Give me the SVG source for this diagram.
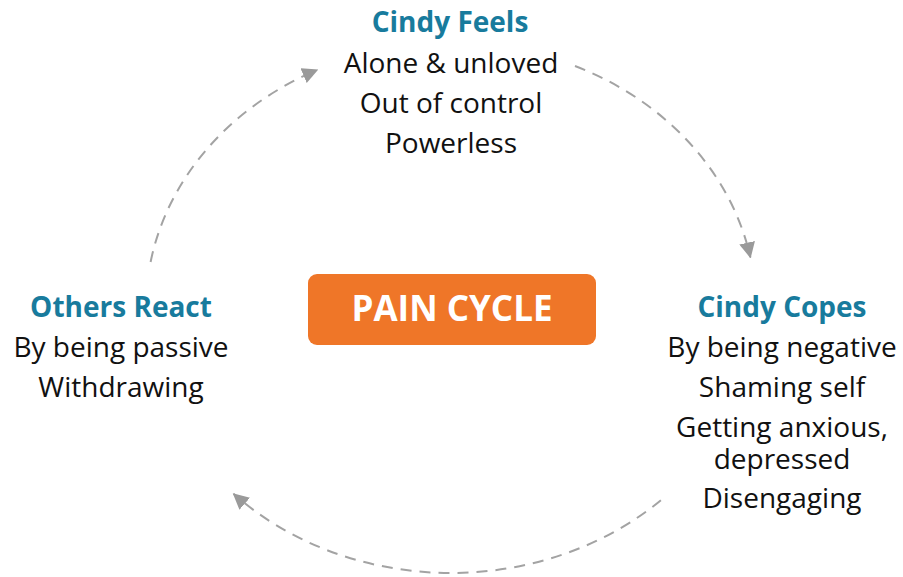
<svg xmlns="http://www.w3.org/2000/svg" width="903" height="577" viewBox="0 0 903 577">
<style>
.h{font-family:"Open Sans","Noto Sans","Liberation Sans",sans-serif;font-weight:700;font-size:28px;fill:#187b9d;text-anchor:middle}
.t{font-family:"Open Sans","Noto Sans","Liberation Sans",sans-serif;font-size:28px;fill:#111;text-anchor:middle}
.c{fill:none;stroke:#a3a3a3;stroke-width:2;stroke-dasharray:11 8;marker-end:url(#ah)}
</style>
<defs>
<marker id="ah" viewBox="0 0 16 16" refX="15" refY="8" markerWidth="16" markerHeight="16" markerUnits="userSpaceOnUse" orient="auto">
<path d="M0,0 L16,8 L0,16 Z" fill="#9a9a9a"/>
</marker>
</defs>
<rect width="903" height="577" fill="#fff"/>
<g id="connectors">
<path class="c" d="M150.6,262 A305,265 0 0 1 317.4,69.8"/>
<path class="c" d="M575,66 A305,265 0 0 1 750.4,257.4"/>
<path class="c" d="M660.9,500.2 A305,265 0 0 1 233.5,493.8"/>
</g>
<g id="center">
<rect x="308" y="274" width="288" height="71" rx="9" fill="#ef7628"/>
<text x="452" y="321" font-family="Open Sans,Noto Sans,sans-serif" font-weight="700" font-size="35" fill="#fff" text-anchor="middle">PAIN CYCLE</text>
</g>
<g id="cindy-feels">
<text class="h" x="450" y="32">Cindy Feels</text>
<text class="t" x="451" y="73">Alone &amp; unloved</text>
<text class="t" x="451" y="113">Out of control</text>
<text class="t" x="451" y="153">Powerless</text>
</g>
<g id="cindy-copes">
<text class="h" x="782" y="317">Cindy Copes</text>
<text class="t" x="782" y="357">By being negative</text>
<text class="t" x="782" y="397">Shaming self</text>
<text class="t" x="782" y="437">Getting anxious,<tspan x="782" dy="32">depressed</tspan></text>
<text class="t" x="782" y="508">Disengaging</text>
</g>
<g id="others-react">
<text class="h" x="121" y="317">Others React</text>
<text class="t" x="121" y="357">By being passive</text>
<text class="t" x="121" y="397">Withdrawing</text>
</g>
</svg>
